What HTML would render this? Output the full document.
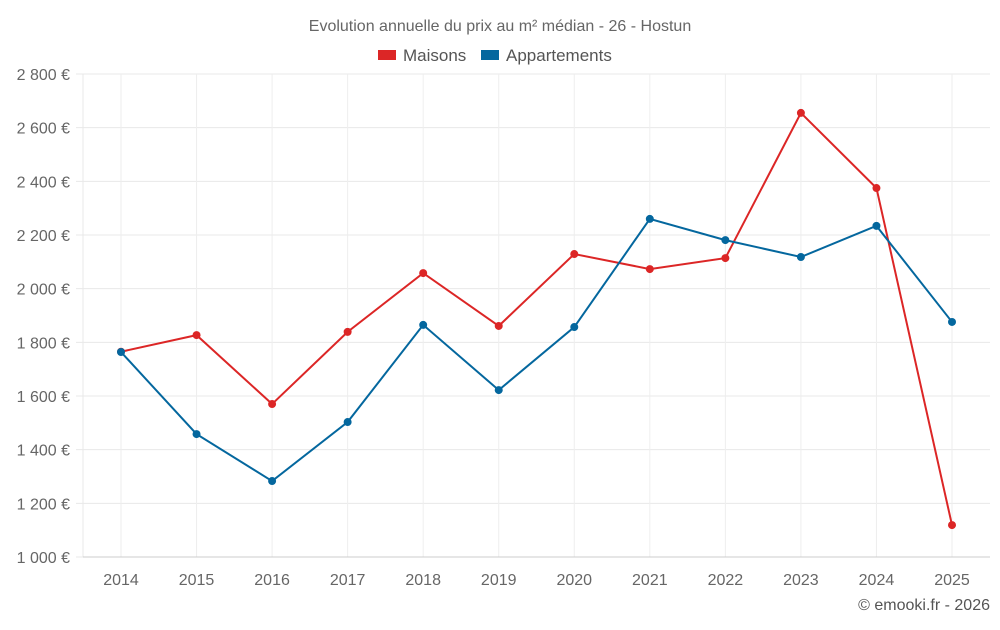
<!DOCTYPE html>
<html><head><meta charset="utf-8"><style>
body{margin:0;background:#fff;font-family:"Liberation Sans",sans-serif}
</style></head><body>
<svg id="c" width="1000" height="625" xmlns="http://www.w3.org/2000/svg"></svg>
<script>
const years=[2014,2015,2016,2017,2018,2019,2020,2021,2022,2023,2024,2025];
const maisons=[1765,1827,1570,1839,2058,1861,2129,2073,2114,2655,2375,1119];
const apparts=[1764,1458,1283,1503,1865,1622,1857,2260,2181,2118,2234,1876];
const yTicks=[1000,1200,1400,1600,1800,2000,2200,2400,2600,2800];
const ns="http://www.w3.org/2000/svg",svg=document.getElementById('c');
const X0=83,X1=990,Y0=557,Y1=74;
const xs=i=>121+i*(952-121)/(years.length-1);
const ys=v=>Y0-(v-1000)/(2800-1000)*(Y0-Y1);
function mk(t,a,txt){const e=document.createElementNS(ns,t);for(const k in a)e.setAttribute(k,a[k]);if(txt!=null)e.textContent=txt;svg.appendChild(e);return e;}
const fmt=v=>{const s=String(v);return s.slice(0,s.length-3)+" "+s.slice(-3)+" €";};
yTicks.forEach(v=>{
 const g=mk('line',{x1:76,x2:X1,y1:ys(v),y2:ys(v),stroke:'#e8e8e8'});
 
 
 const t=mk('text',{x:70,y:ys(v)+6,'text-anchor':'end','font-size':16,fill:'#666'},fmt(v));
 
 
});
const ax=mk('line',{x1:X0,x2:X0,y1:Y1,y2:Y0,stroke:'#e8e8e8'});


years.forEach((y,i)=>{
 const g=mk('line',{x1:xs(i),x2:xs(i),y1:Y1,y2:Y0,stroke:'#eeeeee'});
 
 
 const t=mk('text',{x:xs(i),y:585,'text-anchor':'middle','font-size':16,fill:'#666'},y);
 
 
});
const bx=mk('line',{x1:X0,x2:X1,y1:Y0,y2:Y0,stroke:'#ccc'});


function series(vals,col,name){
 const p=mk('polyline',{points:vals.map((v,i)=>xs(i)+','+ys(v)).join(' '),fill:'none',stroke:col,'stroke-width':2});
 
 
 vals.forEach((v,i)=>{
  const c=mk('circle',{cx:xs(i),cy:ys(v),r:4,fill:col});
  
  
 });
}
series(maisons,'#dc2626','maisons');
series(apparts,'#04679e','appartements');
const ti=mk('text',{x:500,y:31,'text-anchor':'middle','font-size':16,fill:'#666'},'Evolution annuelle du prix au m² médian - 26 - Hostun');


const l1=mk('rect',{x:378,y:50,width:18,height:10,fill:'#dc2626'});


const lt1=mk('text',{x:403,y:61,'font-size':17,fill:'#555'},'Maisons');


const l2=mk('rect',{x:481,y:50,width:18,height:10,fill:'#04679e'});


const lt2=mk('text',{x:506,y:61,'font-size':17,fill:'#555'},'Appartements');


const cr=mk('text',{x:990,y:610,'text-anchor':'end','font-size':16,fill:'#555'},'© emooki.fr - 2026');


</script>
</body></html>
